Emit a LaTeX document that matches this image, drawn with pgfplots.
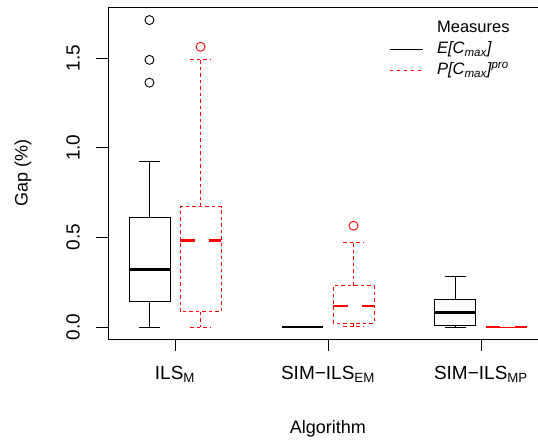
\documentclass[border=0pt]{standalone}
\usepackage{pgfplots}
\pgfplotsset{compat=1.18}
\usepgfplotslibrary{statistics}
\usepackage{fontspec}
\setmainfont{Liberation Sans}
\newcommand{\lgf}{\fontsize{16.5}{19}\selectfont}
\begin{document}
\begin{tikzpicture}[x=1pt,y=1pt]
\path[use as bounding box] (0,0) rectangle (538,441);
\begin{axis}[
  at={(108pt,102pt)}, anchor=south west,
  scale only axis, width=430pt, height=332pt,
  xmin=0.562, xmax=3.373, ymin=-0.067, ymax=1.785,
  boxplot/draw direction=y,
  axis x line*=box, axis y line*=left,
  axis line style={line width=0.8pt, -},
  every outer y axis line/.append style={-},
  every outer x axis line/.append style={-},
  xtick={1,2,3},
  xticklabels={ILS\textsubscript{M}, SIM−ILS\textsubscript{EM}, SIM−ILS\textsubscript{MP}},
  ytick={0,0.5,1,1.5}, yticklabels={0.0,0.5,1.0,1.5},
  xtick pos=bottom, ytick pos=left, tick align=outside, major tick length=12pt,
  tick style={line width=0.8pt, black},
  xticklabel style={font=\fontsize{19}{22}\selectfont, anchor=north, inner sep=0pt},
  xticklabel shift=15pt,
  yticklabel style={font=\fontsize{19}{22}\selectfont, rotate=90, anchor=south, inner sep=0pt},
  yticklabel shift=16pt,
  xlabel={Algorithm}, ylabel={Gap (\%)},
  xlabel style={font=\fontsize{18}{22}\selectfont, at={(axis description cs:0.5116,-0.271)}, anchor=center},
  ylabel style={font=\fontsize{18}{22}\selectfont, at={(axis description cs:-0.198,0.5)}, anchor=center},
  legend image code/.code={\draw[#1] (0pt,0pt) -- (33pt,0pt);},
  legend style={at={(axis description cs:0.6465,0.973)}, anchor=north west, draw=none, fill=none,
    row sep=0pt, cells={anchor=west},
    nodes={inner sep=2pt, text height=12.5pt, text depth=4.5pt},
    /tikz/every odd column/.append style={column sep=12pt}},
]
% ILS_M
\addplot[black, line width=0.9pt, mark=o, mark size=4.5pt, forget plot,
  boxplot prepared={draw position=0.833, lower whisker=0, lower quartile=0.145,
    median=0.322, upper quartile=0.612, upper whisker=0.926,
    box extend=0.268, whisker extend=0.134,
    every median/.style={line width=2.6pt}}]
  table[row sep=\\, y index=0]{data\\ 1.712\\ 1.490\\ 1.363\\};
\addplot[red, line width=0.9pt, dash pattern=on 3.5pt off 3pt, mark=o, mark size=4.5pt,
  mark options={solid}, forget plot,
  boxplot prepared={draw position=1.167, lower whisker=0, lower quartile=0.085,
    median=0.481, upper quartile=0.671, upper whisker=1.493,
    box extend=0.268, whisker extend=0.134,
    every median/.style={line width=2.6pt, dash pattern=on 14.5pt off 14.5pt}}]
  table[row sep=\\, y index=0]{data\\ 1.563\\};
% SIM-ILS_EM
\addplot[black, line width=0.9pt, mark=o, mark size=4.5pt, forget plot,
  boxplot prepared={draw position=1.833, lower whisker=0, lower quartile=0,
    median=0, upper quartile=0, upper whisker=0,
    box extend=0.268, whisker extend=0.134,
    every median/.style={line width=2.6pt}}]
  coordinates {};
\addplot[red, line width=0.9pt, dash pattern=on 3.5pt off 3pt, mark=o, mark size=4.5pt,
  mark options={solid}, forget plot,
  boxplot prepared={draw position=2.167, lower whisker=0.002, lower quartile=0.02,
    median=0.117, upper quartile=0.229, upper whisker=0.472,
    box extend=0.268, whisker extend=0.134,
    every median/.style={line width=2.6pt, dash pattern=on 14.5pt off 14.5pt}}]
  table[row sep=\\, y index=0]{data\\ 0.565\\};
% SIM-ILS_MP
\addplot[black, line width=0.9pt, mark=o, mark size=4.5pt, forget plot,
  boxplot prepared={draw position=2.833, lower whisker=0, lower quartile=0.011,
    median=0.082, upper quartile=0.155, upper whisker=0.281,
    box extend=0.268, whisker extend=0.134,
    every median/.style={line width=2.6pt}}]
  coordinates {};
\addplot[red, line width=0.9pt, dash pattern=on 3.5pt off 3pt, mark=o, mark size=4.5pt,
  mark options={solid}, forget plot,
  boxplot prepared={draw position=3.167, lower whisker=0, lower quartile=0,
    median=0, upper quartile=0, upper whisker=0,
    box extend=0.268, whisker extend=0.134,
    every median/.style={line width=2.6pt, dash pattern=on 14.5pt off 14.5pt}}]
  coordinates {};
\addlegendimage{empty legend}\addlegendentry{\lgf Measures}
\addlegendimage{black, line width=0.9pt}\addlegendentry{\lgf\textit{E[C\textsubscript{max}]}}
\addlegendimage{red, line width=0.9pt, dash pattern=on 3.5pt off 3.5pt}\addlegendentry{\lgf\textit{P[C\textsubscript{max}]\textsuperscript{pro}}}
\end{axis}
\end{tikzpicture}
\end{document}
